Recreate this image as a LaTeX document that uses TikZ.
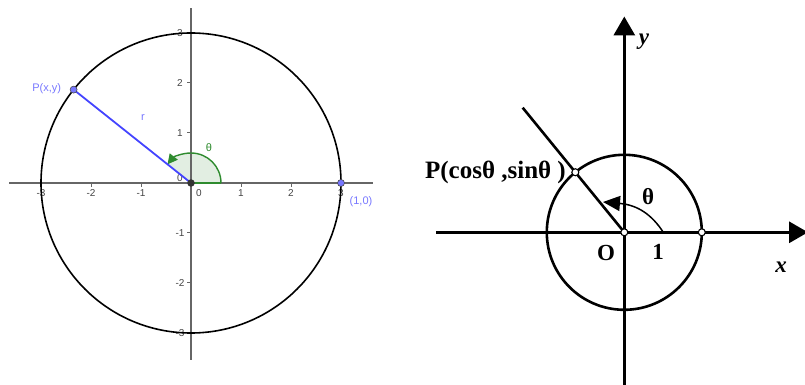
\documentclass[tikz,border=0pt]{standalone}
\usepackage{fontspec}
\setmainfont{Liberation Serif}
\newfontfamily\lsans{Liberation Sans}
\usetikzlibrary{arrows.meta,calc}
\definecolor{axgray}{HTML}{666666}
\definecolor{lblgray}{HTML}{444444}
\definecolor{ptblue}{HTML}{7777FF}
\definecolor{lnblue}{HTML}{4444FF}
\definecolor{arcgreen}{HTML}{2E8B2E}
\definecolor{arcfill}{HTML}{E2EEE2}
\tikzset{
  tick/.style={axgray, line width=1pt},
  ticklbl/.style={lblgray, font=\lsans\fontsize{10}{10}\selectfont, inner sep=0pt},
  bluelbl/.style={ptblue, font=\lsans\fontsize{11}{11}\selectfont, inner sep=0pt},
  bigaxis/.style={line width=3.2pt},
  bigtxt/.style={font=\bfseries\fontsize{23}{23}\selectfont, inner sep=0pt},
  hollowpt/.style={circle, fill=white, draw=black, line width=1.1pt, minimum size=7pt, inner sep=0pt},
  bluept/.style={circle, fill=ptblue, draw=black!70, line width=0.6pt, minimum size=7pt, inner sep=0pt}
}
\begin{document}
\begin{tikzpicture}[x=1pt,y=1pt]
\useasboundingbox (0,0) rectangle (805,385);
% ---------------- left figure ----------------
\coordinate (O1) at (191,202);
\coordinate (xl) at (9,202);
\coordinate (xr) at (373,202);
\coordinate (yb) at (191,25);
\coordinate (yt) at (191,377);
\coordinate (A1) at ($(O1)+(30,0)$);
% sector
\fill[arcfill] (O1) -- (A1) arc[start angle=0,end angle=141.5,radius=30] -- cycle;
% axes
\draw[axgray, line width=1.5pt] (xl) -- (xr);
\draw[axgray, line width=1.5pt] (yb) -- (yt);
\foreach \k in {-3,-2,-1,1,2,3}{
  \draw[tick] ($(O1)+(50*\k,0)$) -- ++(0,-4);
  \draw[tick] ($(O1)+(0,50*\k)$) -- ++(-4,0);
  \node[ticklbl] (xt\k) at ($(O1)+(50*\k,-10)$) {\ifnum\k<0 -\the\numexpr-\k\relax\else\k\fi};
  \node[ticklbl] (yt\k) at ($(O1)+(-11,50*\k)$) {\ifnum\k<0 -\the\numexpr-\k\relax\else\k\fi};
}
\node[ticklbl] (x0) at ($(O1)+(8,-10)$) {0};
\node[ticklbl] (y0) at ($(O1)+(-11,5)$) {0};
% circle
\draw[black, line width=1.6pt] (O1) circle[radius=150];
% green angle
\draw[arcgreen, line width=1.4pt] (O1) -- (A1);
\draw[arcgreen, line width=1.4pt, -{Triangle[length=10pt,width=10pt]}] (A1) arc[start angle=0,end angle=141.5,radius=30];
% radius line
\coordinate (P1) at ($(O1)+(141.5:150)$);
\draw[lnblue, line width=1.8pt] (O1) -- (P1);
\node[bluept] (Pt) at (P1) {};
\node[bluept] (Qt) at ($(O1)+(150,0)$) {};
\node[circle, fill=black!80, minimum size=7.5pt, inner sep=0pt] (Odot) at (O1) {};
\node[bluelbl] (Plbl) at (46.7,296) {P(x,y)};
\node[bluelbl] (rlbl) at (143,267) {r};
\node[bluelbl] (Qlbl) at (361,183) {(1,0)};
\node[arcgreen, font=\lsans\fontsize{11}{11}\selectfont, inner sep=0pt] (th1) at (209,237) {θ};
% ---------------- right figure ----------------
\coordinate (O2) at (624.3,152.7);
\coordinate (Xl) at (436,152.7);
\coordinate (Xr) at (808,152.7);
\coordinate (Yb) at (624.3,0);
\coordinate (Yt) at (624.3,368.5);
\draw[bigaxis, -{Triangle[length=19pt,width=21pt]}] (Xl) -- (Xr);
\draw[bigaxis, -{Triangle[length=19pt,width=21pt]}] (Yb) -- (Yt);
\draw[line width=2.6pt] (O2) circle[radius=77.5];
\coordinate (R) at ($(O2)+(129.2:160.8)$);
\draw[line width=2.6pt] (O2) -- (R);
\coordinate (A2) at ($(O2)+(39,0)$);
\coordinate (T2) at (603,183);
\draw[line width=1.5pt, -{Triangle[length=17pt,width=15pt]}] (A2) .. controls (652,170) and (638,180) .. (T2);
\node[hollowpt] (P2) at ($(O2)+(129.2:77.5)$) {};
\node[hollowpt] (O2pt) at (O2) {};
\node[hollowpt] (U2) at ($(O2)+(77.5,0)$) {};
\node[bigtxt, font=\bfseries\fontsize{25}{25}\selectfont, anchor=east] (P2lbl) at (566,213) {P(cosθ ,sinθ )};
\node[bigtxt] (th2) at (648,188) {θ};
\node[bigtxt] (Olbl) at (606,132) {O};
\node[bigtxt] (onelbl) at (658,133) {1};
\node[bigtxt, font=\bfseries\itshape\fontsize{23}{23}\selectfont] (ylbl) at (644,343) {y};
\node[bigtxt, font=\bfseries\itshape\fontsize{23}{23}\selectfont] (xlbl) at (781,118) {x};
\end{tikzpicture}
\end{document}
